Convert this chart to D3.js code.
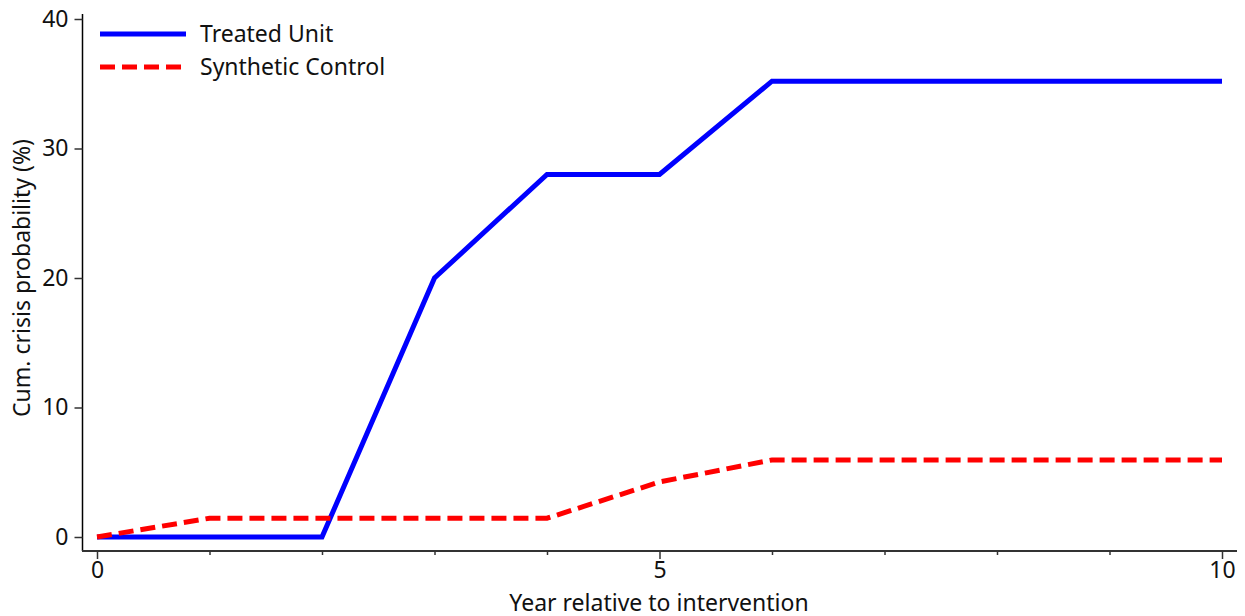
<!DOCTYPE html>
<html><head><meta charset="utf-8">
<script src="https://cdn.jsdelivr.net/npm/d3@7"></script>
<style>body{margin:0;background:#fff;} text{font-family:"Noto Sans",sans-serif;}</style>
</head><body>
<svg id="chart" width="1245" height="616"></svg>
<script>
const years = [0,1,2,3,4,5,6,7,8,9,10];
const treated = [0,0,0,20,28,28,35.2,35.2,35.2,35.2,35.2];
const synthetic = [0,1.45,1.45,1.45,1.45,4.25,5.95,5.95,5.95,5.95,5.95];
const xMajorTicks = [0,5,10];
const xMinorTicks = [1,2,3,4,6,7,8,9];
const yTicks = [0,10,20,30,40];
const seriesNames = ["Treated Unit","Synthetic Control"];

const FS = 23;
const svg = d3.select("#chart");
const x = d3.scaleLinear().domain([0,10]).range([97,1222]);
const y = d3.scaleLinear().domain([0,40]).range([537,19]);
const axisColor = "#333";

// axes lines
svg.append("line").attr("x1",82.5).attr("x2",82.5).attr("y1",14).attr("y2",551).attr("stroke","#000").attr("stroke-width",1.5);
svg.append("line").attr("x1",82).attr("x2",1237).attr("y1",551).attr("y2",551).attr("stroke",axisColor).attr("stroke-width",2);

// y axis
const yAxis = d3.axisLeft(y).tickValues(yTicks).tickSize(8).tickPadding(6);
const gy = svg.append("g").attr("transform","translate(82.5,0)").call(yAxis);
gy.select(".domain").remove();
gy.selectAll(".tick line").attr("stroke",axisColor).attr("stroke-width",1.5);
gy.selectAll(".tick text").attr("font-size",FS).attr("fill","#111").attr("font-family","Noto Sans");

// x axis major
const xAxis = d3.axisBottom(x).tickValues(xMajorTicks).tickSize(8).tickPadding(3);
const gx = svg.append("g").attr("transform","translate(0,551)").call(xAxis);
gx.select(".domain").remove();
gx.selectAll(".tick line").attr("stroke",axisColor).attr("stroke-width",1.5);
gx.selectAll(".tick text").attr("font-size",FS).attr("fill","#111").attr("font-family","Noto Sans");
// minor
const gxm = svg.append("g").attr("transform","translate(0,551)").call(d3.axisBottom(x).tickValues(xMinorTicks).tickSize(4).tickFormat(""));
gxm.select(".domain").remove();
gxm.selectAll(".tick line").attr("stroke",axisColor).attr("stroke-width",1.5);

// labels
svg.append("text").attr("x",659).attr("y",611).attr("text-anchor","middle").attr("font-size",FS).attr("fill","#111").text("Year relative to intervention");
svg.append("text").attr("transform","translate(30,278) rotate(-90)").attr("text-anchor","middle").attr("font-size",FS).attr("fill","#111").text("Cum. crisis probability (%)");

const line = d3.line().x((d,i)=>x(years[i])).y(d=>y(d));
svg.append("path").datum(treated).attr("d",line).attr("fill","none").attr("stroke","#0000ff").attr("stroke-width",5).attr("stroke-linejoin","miter");
svg.append("path").datum(synthetic).attr("d",line).attr("fill","none").attr("stroke","#ff0000").attr("stroke-width",5).attr("stroke-dasharray","15,7");

// legend
const leg = [{name:seriesNames[0],color:"#0000ff",dash:null,yy:34},{name:seriesNames[1],color:"#ff0000",dash:"15,7",yy:67}];
leg.forEach(l=>{
  svg.append("line").attr("x1",100).attr("x2",186).attr("y1",l.yy).attr("y2",l.yy).attr("stroke",l.color).attr("stroke-width",5).attr("stroke-dasharray",l.dash);
  svg.append("text").attr("x",200).attr("y",l.yy+8).attr("font-size",FS).attr("fill","#111").text(l.name);
});
</script>
</body></html>
